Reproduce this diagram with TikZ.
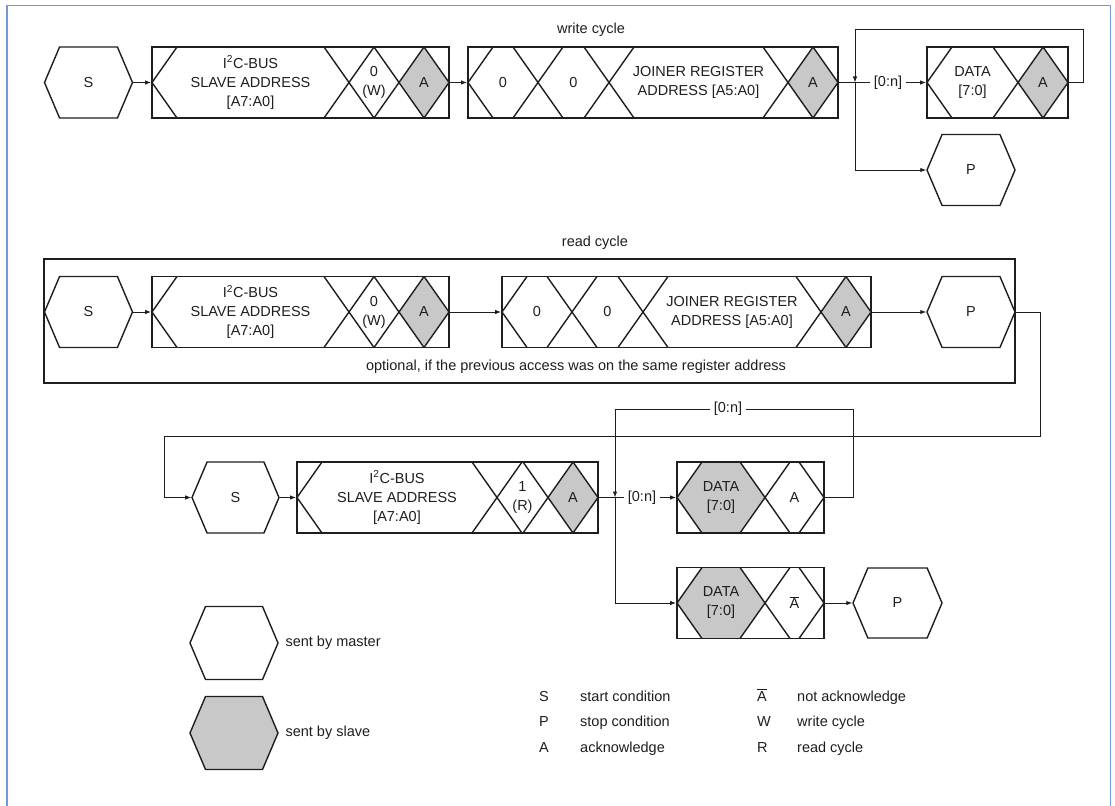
\documentclass[tikz,border=0pt]{standalone}
\usepackage{fontspec}
\setmainfont{Liberation Sans}
\usetikzlibrary{arrows.meta,shapes.symbols}
\definecolor{ackgray}{RGB}{200,200,200}
\definecolor{frameblue}{RGB}{110,155,212}
\definecolor{ink}{RGB}{30,30,30}

\begin{document}
\begin{tikzpicture}[x=1pt,y=-1pt,
        every node/.style={font=\fontsize{14.5}{19}\selectfont, text=ink},
        arr/.style={draw=ink, line width=0.9pt, -{Latex[length=6pt,width=4.5pt]}},
        wire/.style={draw=ink, line width=0.9pt},
        hexa/.style={shape=signal, signal to=east and west, signal pointer angle=134,
            draw=ink, line width=1.4pt, minimum width=88pt, minimum height=71pt, inner sep=0pt},
        bitbox/.style={draw=ink, line width=1.8pt, minimum height=71pt, inner sep=0pt},
        diag/.style={draw=ink, line width=1.4pt},
        fld/.style={align=center, inner sep=0pt},
        lbl/.style={inner sep=4pt},
        keytxt/.style={anchor=base west, inner sep=0pt}]
        \useasboundingbox (0,0) rectangle (1115,805);
        \draw [frameblue, line width=1.5pt] (7,810) -- (7,5.5) -- (1110.5,5.5) -- (1110.5,810);
        
        % write cycle
        \node (wc) at (591,30) {write cycle};
        \foreach \a/\b in {399/449, 788/838, 1018/1068}
            \fill [ackgray] (\a,82.5) -- (\a+25,47) -- (\b-25,47) -- (\b,82.5) -- (\b-25,118) -- (\a+25,118) -- cycle;
        \foreach \x in {349,399,538,609,788,1018}
            \draw [diag] (\x-25,47) -- (\x+25,118) (\x-25,118) -- (\x+25,47);
        \foreach \x in {152,468,927}
            \draw [diag] (\x+25,47) -- (\x,82.5) -- (\x+25,118);
        \foreach \x in {449,838,1068}
            \draw [diag] (\x-25,47) -- (\x,82.5) -- (\x-25,118);
        
        \node[hexa] (sw) at (88.5,82.5) {S};
        \node[bitbox, minimum width=297pt] (w1) at (300.5,82.5) {};
        \node[bitbox, minimum width=370pt] (w2) at (653,82.5) {};
        \node[bitbox, minimum width=141pt] (wd) at (997.5,82.5) {};
        \node[hexa] (pw) at (971,170) {P};
        
        \node[fld] (w1a) at (250.5,82.5) {I\textsuperscript{2}C-BUS\\SLAVE ADDRESS\\{}[A7:A0]};
        \node[fld] (w1b) at (374,82.5) {0\\(W)};
        \node[fld] (w1c) at (424,82.5) {A};
        \node[fld] (w2a) at (503,82.5) {0};
        \node[fld] (w2b) at (573.5,82.5) {0};
        \node[fld] (w2c) at (698.5,82.5) {JOINER REGISTER\\ADDRESS [A5:A0]};
        \node[fld] (w2d) at (813,82.5) {A};
        \node[fld] (wda) at (972.5,82.5) {DATA\\{}[7:0]};
        \node[fld] (wdb) at (1043,82.5) {A};
        
        \coordinate (jw) at (855,82.5);
        \coordinate (wtop) at (855,29);
        \node[lbl] (nw) at (888,82.5) {[0:n]};
        \draw [arr] (sw.east) -- (w1.west);
        \draw [arr] (w1.east) -- (w2.west);
        \draw [wire] (w2.east) -- (nw.west);
        \draw [arr] (nw.east) -- (wd.west);
        \draw [arr] (wd.east) -- ++(15,0) |- (wtop) -- (jw);
        \draw [arr] (jw) |- (pw.west);
        
        % read cycle
        \node (rc) at (595,243) {read cycle};
        \node[draw=ink, line width=1.8pt, minimum width=971pt, minimum height=124pt, inner sep=0pt] (opt) at (529.5,321) {};
        \node (optx) at (576,367) {optional, if the previous access was on the same register address};
        \foreach \a/\b in {399/449, 821/871}
            \fill [ackgray] (\a,312) -- (\a+25,276.5) -- (\b-25,276.5) -- (\b,312) -- (\b-25,347.5) -- (\a+25,347.5) -- cycle;
        \foreach \x in {349,399,572,643,821}
            \draw [diag] (\x-25,276.5) -- (\x+25,347.5) (\x-25,347.5) -- (\x+25,276.5);
        \foreach \x in {152,502}
            \draw [diag] (\x+25,276.5) -- (\x,312) -- (\x+25,347.5);
        \foreach \x in {449,871}
            \draw [diag] (\x-25,276.5) -- (\x,312) -- (\x-25,347.5);
        
        \node[hexa] (sr) at (88.5,312) {S};
        \node[bitbox, minimum width=297pt] (r1) at (300.5,312) {};
        \node[bitbox, minimum width=369pt] (r2) at (686.5,312) {};
        \node[hexa] (pr) at (971,312) {P};
        
        \node[fld] (r1a) at (250.5,312) {I\textsuperscript{2}C-BUS\\SLAVE ADDRESS\\{}[A7:A0]};
        \node[fld] (r1b) at (374,312) {0\\(W)};
        \node[fld] (r1c) at (424,312) {A};
        \node[fld] (r2a) at (537,312) {0};
        \node[fld] (r2b) at (607.5,312) {0};
        \node[fld] (r2c) at (732,312) {JOINER REGISTER\\ADDRESS [A5:A0]};
        \node[fld] (r2d) at (846,312) {A};
        
        \draw [arr] (sr.east) -- (r1.west);
        \draw [arr] (r1.east) -- (r2.west);
        \draw [arr] (r2.east) -- (pr.west);
        
        % read data
        \foreach \a/\b/\t/\m/\u in {548/598/462/497.5/533, 677/765/462/497.5/533, 677/765/567.5/603/638.5}
            \fill [ackgray] (\a,\m) -- (\a+25,\t) -- (\b-25,\t) -- (\b,\m) -- (\b-25,\u) -- (\a+25,\u) -- cycle;
        \foreach \x/\t/\u in {497/462/533, 548/462/533, 765/462/533, 765/567.5/638.5}
            \draw [diag] (\x-25,\t) -- (\x+25,\u) (\x-25,\u) -- (\x+25,\t);
        \foreach \x/\t/\m/\u in {297/462/497.5/533, 677/462/497.5/533, 677/567.5/603/638.5}
            \draw [diag] (\x+25,\t) -- (\x,\m) -- (\x+25,\u);
        \foreach \x/\t/\m/\u in {598/462/497.5/533, 824/462/497.5/533, 824/567.5/603/638.5}
            \draw [diag] (\x-25,\t) -- (\x,\m) -- (\x-25,\u);
        
        \node[hexa, minimum width=87pt] (sb) at (235.5,497.5) {S};
        \node[bitbox, minimum width=301pt] (b1) at (447.5,497.5) {};
        \node[bitbox, minimum width=147pt] (bd1) at (750.5,497.5) {};
        \node[bitbox, minimum width=147pt] (bd2) at (750.5,603) {};
        \node[hexa, minimum width=89pt, minimum height=70pt] (pb) at (897.5,603) {P};
        
        \node[fld] (b1a) at (397,497.5) {I\textsuperscript{2}C-BUS\\SLAVE ADDRESS\\{}[A7:A0]};
        \node[fld] (b1b) at (522.5,497.5) {1\\(R)};
        \node[fld] (b1c) at (573,497.5) {A};
        \node[fld] (bd1a) at (721,497.5) {DATA\\{}[7:0]};
        \node[fld] (bd1b) at (794.5,497.5) {A};
        \node[fld] (bd2a) at (721,603) {DATA\\{}[7:0]};
        \node[fld, anchor=base] (bd2b) at (794.5,608.2) {$\overline{\mbox{A}}$};
        
        \coordinate (jb) at (615,497.5);
        \coordinate (rbend) at (164,436);
        \node[lbl] (nb) at (642,497.5) {[0:n]};
        \node[lbl] (nt) at (728,409) {[0:n]};
        \draw [arr] (pr.east) -- ++(25,0) |- (rbend) |- (sb.west);
        \draw [arr] (sb.east) -- (b1.west);
        \draw [wire] (b1.east) -- (nb.west);
        \draw [arr] (nb.east) -- (bd1.west);
        \draw [wire] (bd1.east) -- ++(29,0) |- (nt.east);
        \draw [arr] (nt.west) -| (jb);
        \draw [arr] (jb) |- (bd2.west);
        \draw [arr] (bd2.east) -- (pb.west);
        
        % key
        \node[hexa, minimum height=73pt] (keym) at (234,643) {};
        \node[hexa, minimum height=73pt, fill=ackgray] (keys) at (234,733) {};
        \node[anchor=west] (keymt) at (282,643) {sent by master};
        \node[anchor=west] (keyst) at (282,733) {sent by slave};
        \node[keytxt] (kS) at (539,701) {S};
        \node[keytxt] (kSt) at (580,701) {start condition};
        \node[keytxt] (kP) at (539,726) {P};
        \node[keytxt] (kPt) at (580,726) {stop condition};
        \node[keytxt] (kA) at (539,752) {A};
        \node[keytxt] (kAt) at (580,752) {acknowledge};
        \node[keytxt] (kN) at (757,701) {$\overline{\mbox{A}}$};
        \node[keytxt] (kNt) at (797,701) {not acknowledge};
        \node[keytxt] (kW) at (757,726) {W};
        \node[keytxt] (kWt) at (797,726) {write cycle};
        \node[keytxt] (kR) at (757,752) {R};
        \node[keytxt] (kRt) at (797,752) {read cycle};
    \end{tikzpicture}
\end{document}
